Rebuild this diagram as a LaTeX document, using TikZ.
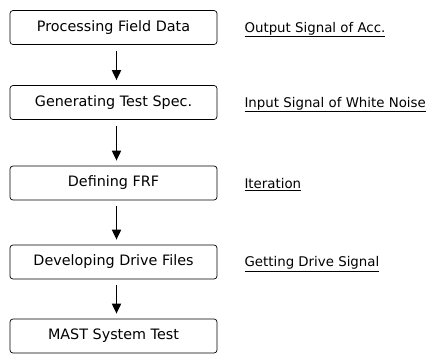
\documentclass[tikz,border=0pt]{standalone}
\usepackage{fontspec}
\setmainfont{DejaVu Sans}
\usepackage{tikz}
\usetikzlibrary{arrows.meta,positioning}

\begin{document}
\begin{tikzpicture}[x=1bp, y=-1bp, every node/.style={font=\fontsize{14.4}{16}\selectfont},
    stepbox/.style={draw, rounded corners=3bp, line width=0.7bp, minimum width=207bp, minimum height=34bp},
    lbl/.style={inner sep=1bp, font=\fontsize{13.4}{15}\selectfont},
    flow/.style={line width=1.8bp, -{Triangle[width=9bp,length=10bp]}, shorten <=6bp, shorten >=5bp}]
            \useasboundingbox (0,0) rectangle (438,354);

            % Steps
            \node[stepbox] (b1) at (113.5,27.5) {Processing Field Data};
            \node[stepbox] (b2) at (113.5,102.5) {Generating Test Spec.};
            \node[stepbox] (b3) at (113.5,183) {Defining FRF};
            \node[stepbox] (b4) at (113.5,262) {Developing Drive Files};
            \node[stepbox] (b5) at (113.5,336) {MAST System Test};

            % Arrows
            \draw[flow] (b1.south) ++(3,0) coordinate (a1) -- (a1 |- b2.north);
            \draw[flow] (b2.south) ++(3,0) coordinate (a2) -- (a2 |- b3.north);
            \draw[flow] (b3.south) ++(3,0) coordinate (a3) -- (a3 |- b4.north);
            \draw[flow] (b4.south) ++(3,0) coordinate (a4) -- (a4 |- b5.north);

            % Labels
            \node[lbl, right=26bp of b1, yshift=-2bp] (l1) {\underline{Output Signal of Acc.}};
            \node[lbl, right=26bp of b2, yshift=-2bp] (l2) {\underline{Input Signal of White Noise}};
            \node[lbl, right=26bp of b3, yshift=-2bp] (l3) {\underline{Iteration}};
            \node[lbl, right=26bp of b4, yshift=-2bp] (l4) {\underline{Getting Drive Signal}};
        \end{tikzpicture}
\end{document}
